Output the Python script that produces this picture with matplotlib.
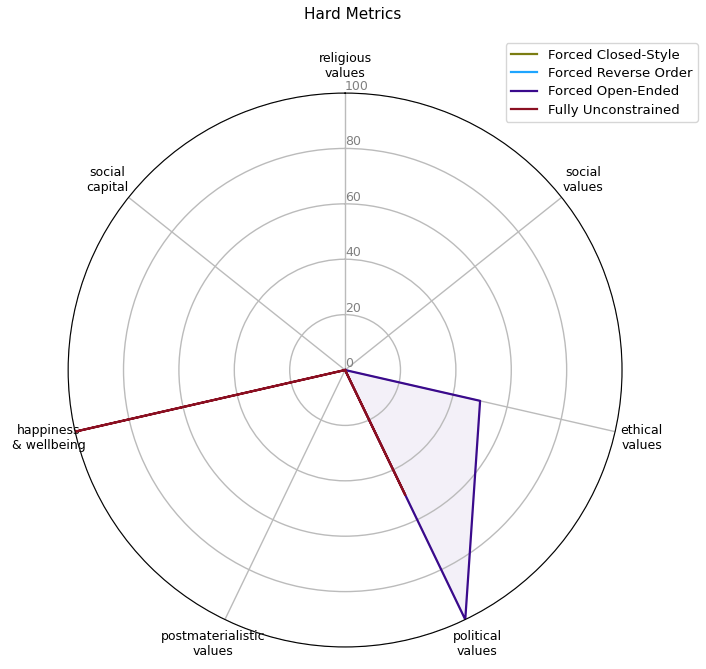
import numpy as np
import matplotlib
matplotlib.use("Agg")
import matplotlib.pyplot as plt

categories = ["religious\nvalues", "social\nvalues", "ethical\nvalues",
              "political\nvalues", "postmaterialistic\nvalues",
              "happiness\n& wellbeing", "social\ncapital"]

series_names = ["Forced Closed-Style", "Forced Reverse Order",
                "Forced Open-Ended", "Fully Unconstrained"]
closed_style = [0, 0, 0, 0, 0, 0, 0]
reverse_order = [0, 0, 0, 0, 0, 0, 0]
open_ended = [0, 0, 50, 100, 0, 0, 0]
unconstrained = [0, 0, 0, 50, 0, 100, 0]
colors = ["#7b7d12", "#1ea5ff", "#3a0a8c", "#8b1022"]

r_ticks = [0, 20, 40, 60, 80, 100]


def main():
    n = len(categories)
    angles = np.linspace(0, 2 * np.pi, n, endpoint=False).tolist()
    angles += angles[:1]

    fig = plt.figure(figsize=(7.06, 6.69), dpi=100)
    ax = fig.add_axes([0.0963, 0.0329, 0.785, 0.828], polar=True)
    ax.set_theta_offset(np.pi / 2)
    ax.set_theta_direction(-1)

    all_series = [closed_style, reverse_order, open_ended, unconstrained]
    for name, vals, c in zip(series_names, all_series, colors):
        v = vals + vals[:1]
        ax.plot(angles, v, color=c, linewidth=1.6, label=name)
        ax.fill(angles, v, color=c, alpha=0.06)

    ax.set_xticks(angles[:-1])
    ax.set_xticklabels(categories, fontsize=9)
    ax.tick_params(axis="x", pad=9)
    ax.set_ylim(0, 100)
    ax.set_yticks(r_ticks)
    ax.set_yticklabels([str(t) for t in r_ticks], fontsize=9, color="grey")
    ax.set_rlabel_position(0)
    ax.grid(True, color="#bbbbbb", linewidth=1)

    ax.legend(loc="upper right", bbox_to_anchor=(0.988, 0.935),
              bbox_transform=fig.transFigure, fontsize=9.5, labelspacing=0.4,
              borderaxespad=0)
    fig.suptitle("Hard Metrics", fontsize=11, y=0.99)
    fig.savefig("out.png", dpi=100)


if __name__ == "__main__":
    main()
